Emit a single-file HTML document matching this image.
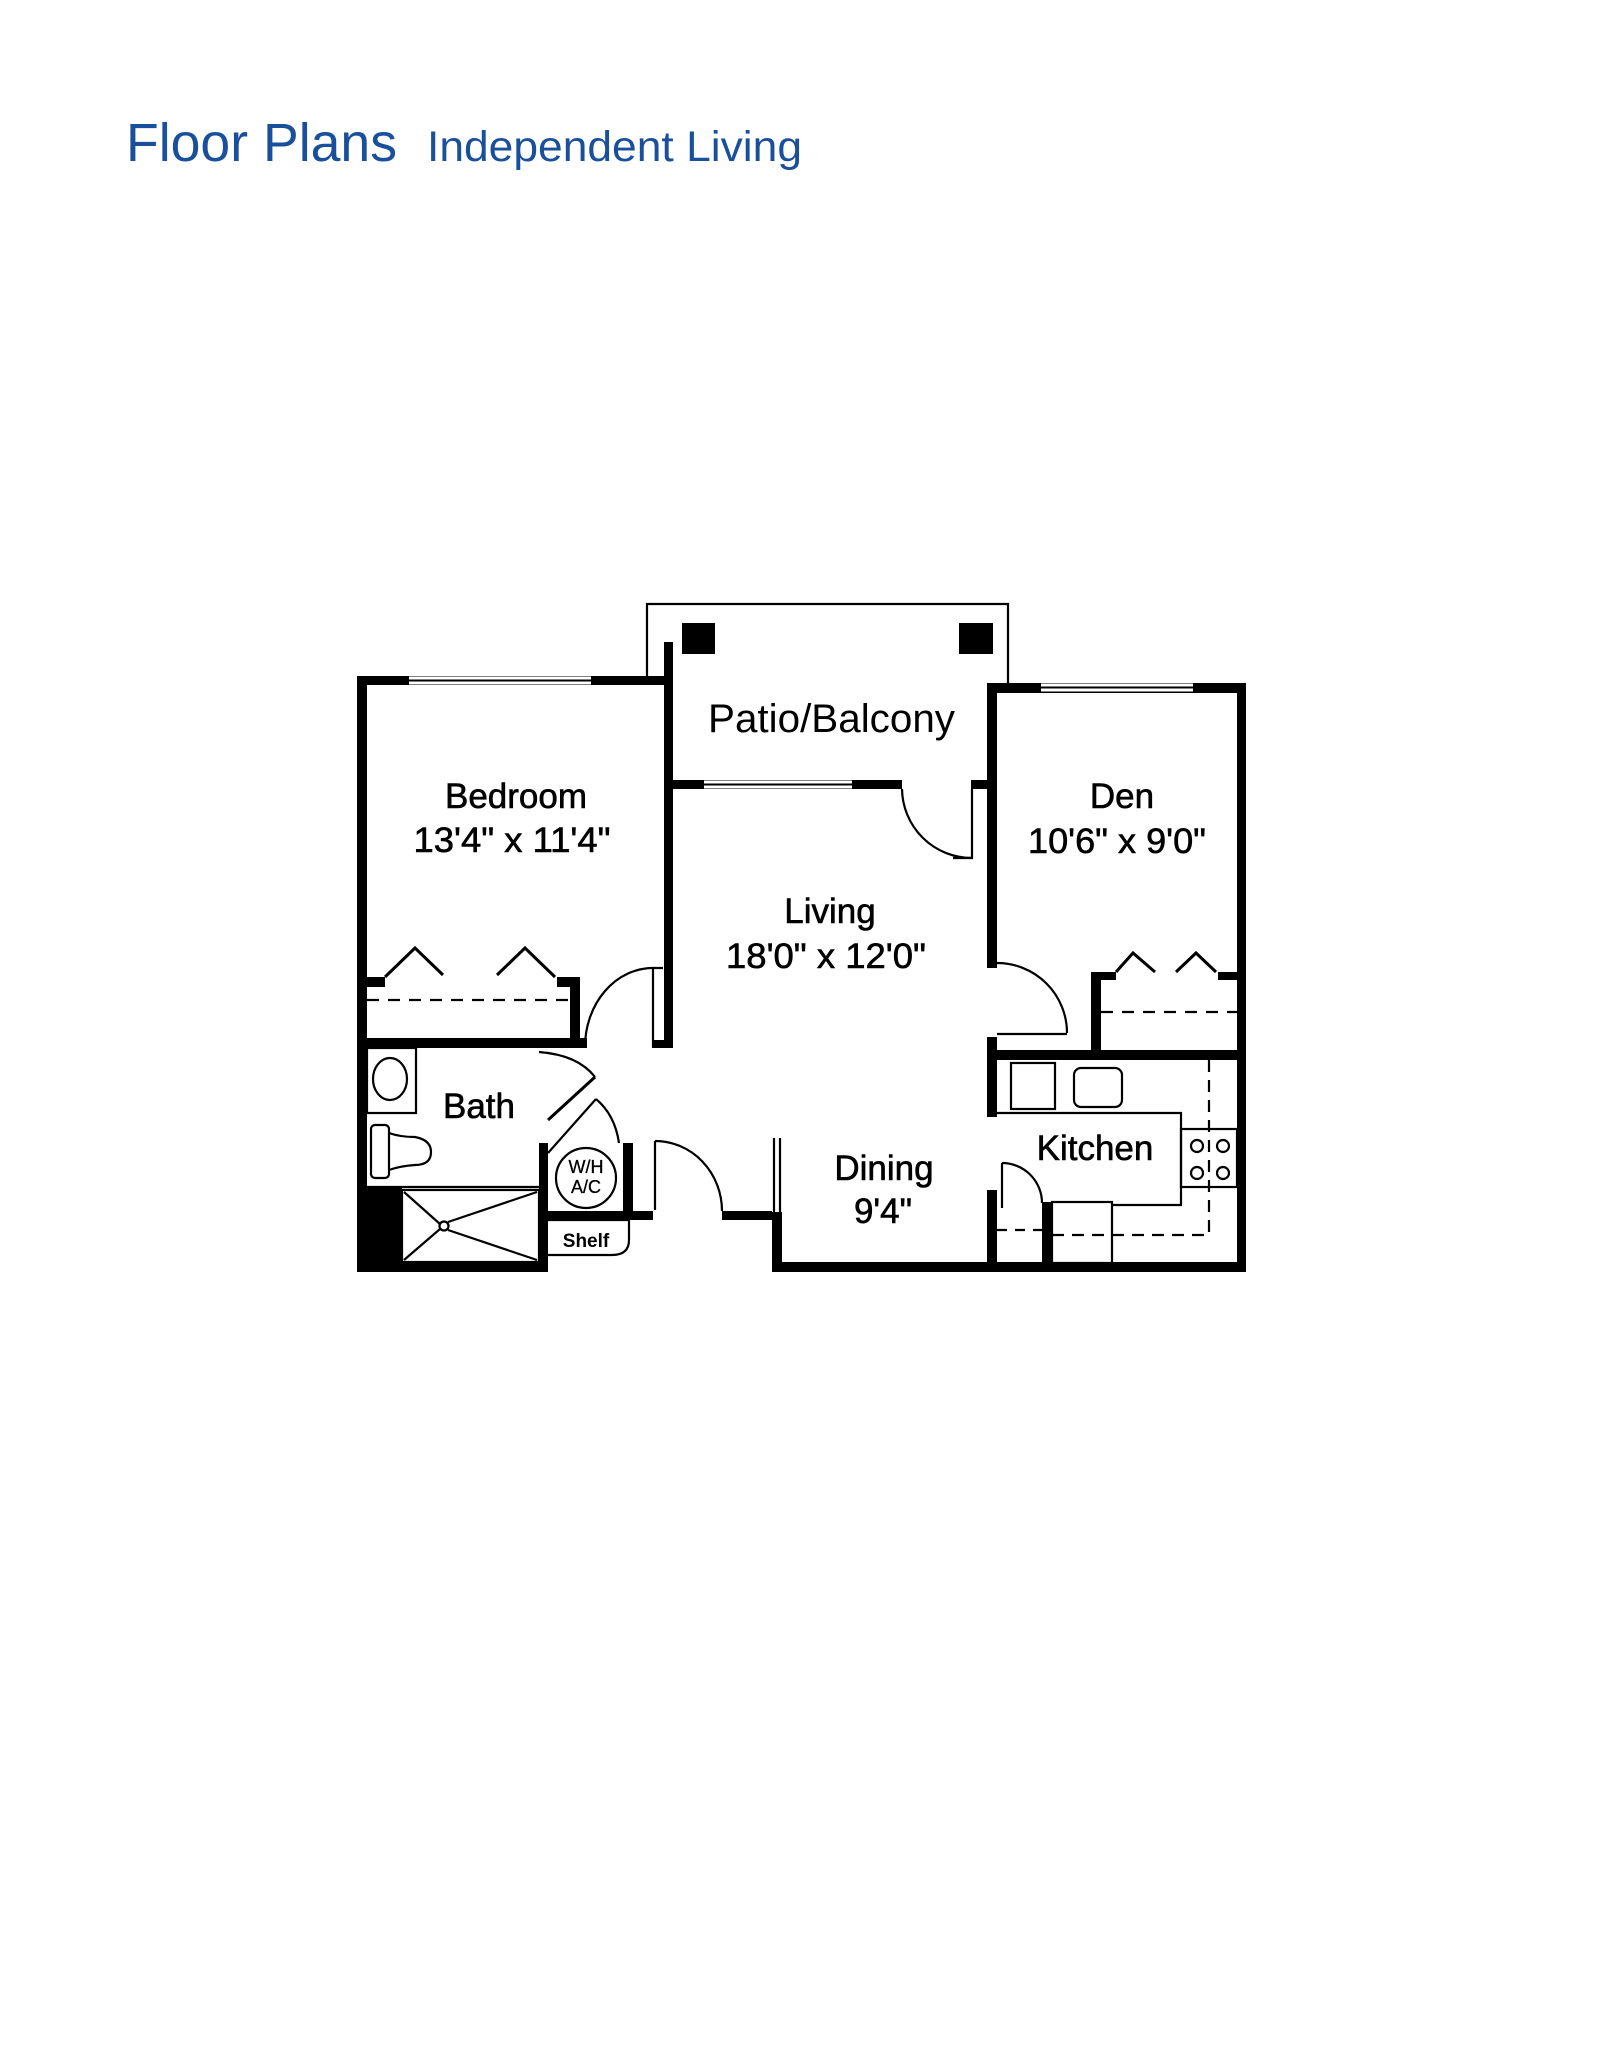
<!DOCTYPE html>
<html><head><meta charset="utf-8"><style>
html,body{margin:0;padding:0;background:#fff;}
svg{display:block;}
.t{font-family:"Liberation Sans",sans-serif;fill:#000;stroke:#000;stroke-width:0.6;}
</style></head><body>
<svg width="1600" height="2070" viewBox="0 0 1600 2070" xmlns="http://www.w3.org/2000/svg">
<text x="126" y="161" font-family="Liberation Sans, sans-serif" font-size="54" fill="#1a4f9c" textLength="271" lengthAdjust="spacingAndGlyphs">Floor Plans</text>
<text x="427" y="161" font-family="Liberation Sans, sans-serif" font-size="43" fill="#1a4f9c" textLength="375" lengthAdjust="spacingAndGlyphs">Independent Living</text>

<g fill="#000" stroke="none">
<rect x="357" y="676" width="10" height="596"/>
<rect x="357" y="676" width="316" height="9"/>
<rect x="664" y="642" width="9" height="406"/>
<rect x="664" y="780" width="238" height="9"/>
<rect x="971" y="780" width="26" height="9"/>
<rect x="987" y="683" width="259" height="10"/>
<rect x="987" y="683" width="10" height="285"/>
<rect x="1237" y="683" width="9" height="589"/>
<rect x="987" y="1037" width="10" height="80"/>
<rect x="1091" y="972" width="10" height="80"/>
<rect x="1091" y="972" width="25" height="8"/>
<rect x="1218" y="972" width="19" height="8"/>
<rect x="987" y="1050" width="259" height="10"/>
<rect x="987" y="1190" width="10" height="73"/>
<rect x="1042" y="1202" width="10" height="61"/>
<rect x="772" y="1262" width="474" height="10"/>
<rect x="772" y="1212" width="10" height="60"/>
<rect x="722" y="1211" width="50" height="9"/>
<rect x="539" y="1211" width="114" height="9"/>
<rect x="539" y="1143" width="9" height="129"/>
<rect x="539" y="1143" width="9" height="10"/>
<rect x="623" y="1143" width="10" height="77"/>
<rect x="357" y="1038" width="230" height="10"/>
<rect x="357" y="1262" width="191" height="10"/>
<rect x="367" y="1188" width="35" height="74"/>
<rect x="570" y="977" width="10" height="71"/>
<rect x="367" y="977" width="18" height="10"/>
<rect x="557" y="977" width="23" height="10"/>
<rect x="652" y="1040" width="12" height="8"/>
<rect x="682" y="623" width="33" height="31"/>
<rect x="959" y="623" width="34" height="31"/>
</g>

<g fill="none" stroke="#000" stroke-width="2.2">
<polyline points="647,676 647,604 1008,604 1008,683"/>
<line x1="409" y1="678" x2="591" y2="678" stroke="#fff" stroke-width="3"/>
<line x1="409" y1="683" x2="591" y2="683" stroke="#fff" stroke-width="3"/>
<line x1="704" y1="782" x2="852" y2="782" stroke="#fff" stroke-width="3"/>
<line x1="704" y1="787" x2="852" y2="787" stroke="#fff" stroke-width="3"/>
<line x1="1041" y1="685" x2="1193" y2="685" stroke="#fff" stroke-width="3"/>
<line x1="1041" y1="690" x2="1193" y2="690" stroke="#fff" stroke-width="3"/>
<line x1="774" y1="1138" x2="774" y2="1212"/>
<line x1="780" y1="1138" x2="780" y2="1212"/>
<polyline points="953,858 972,858 972,789"/>
<path d="M902,789 A70,70 0 0 0 972,858"/>
<polyline points="653,1047 653,968 663,968"/>
<path d="M585,1047 A68,79 0 0 1 653,968"/>
<path d="M997,963 A70,70 0 0 1 1067,1033"/>
<line x1="997" y1="1034" x2="1067" y2="1034"/>
<polyline points="385,977 415,948 443,975" stroke-width="3"/>
<polyline points="497,975 525,948 555,977" stroke-width="3"/>
<polyline points="1116,972 1133,953 1155,972" stroke-width="3"/>
<polyline points="1176,972 1196,953 1216,972" stroke-width="3"/>
<line x1="367" y1="1000" x2="570" y2="1000" stroke-dasharray="12,9"/>
<line x1="1101" y1="1012" x2="1237" y2="1012" stroke-dasharray="12,9"/>
<polyline points="997,1113 1181,1113 1181,1205 1112,1205"/>
<rect x="1181" y="1129" width="56" height="58"/>
<circle cx="1197" cy="1146" r="6"/><circle cx="1223" cy="1146" r="6"/>
<circle cx="1197" cy="1173" r="6"/><circle cx="1223" cy="1173" r="6"/>
<rect x="1011" y="1063" width="44" height="46"/>
<rect x="1074" y="1068" width="48" height="39" rx="7"/>
<line x1="1209" y1="1060" x2="1209" y2="1235" stroke-dasharray="12,8"/>
<line x1="1052" y1="1235" x2="1209" y2="1235" stroke-dasharray="12,8"/>
<line x1="997" y1="1230" x2="1042" y2="1230" stroke-dasharray="10,8"/>
<rect x="1052" y="1202" width="60" height="61"/>
<line x1="1002" y1="1163" x2="1002" y2="1208"/>
<path d="M1002,1163 A40,40 0 0 1 1042,1203"/>
<line x1="655" y1="1141" x2="655" y2="1210"/>
<path d="M655,1141 A67,70 0 0 1 722,1211"/>
<polyline points="548,1153 596,1099"/>
<path d="M596,1099 Q615,1115 619,1143"/>
<circle cx="586" cy="1178" r="30"/>
<path d="M548,1220 L629,1220 L629,1240 Q629,1255 612,1255 L548,1255"/>
<path d="M539,1052 Q578,1055 595,1077"/>
<line x1="595" y1="1077" x2="548" y2="1120" stroke-width="3"/>
<rect x="367" y="1048" width="49" height="65"/>
<ellipse cx="390" cy="1079" rx="17" ry="21"/>
<rect x="371" y="1125" width="18" height="53" rx="4"/>
<path d="M389,1133 Q400,1137 415,1137 Q431,1140 431,1152 Q431,1165 415,1165 Q400,1166 389,1170"/>
<line x1="367" y1="1187" x2="539" y2="1187"/>
<rect x="402" y="1190" width="137" height="72"/>
<line x1="404" y1="1192" x2="440" y2="1224"/>
<line x1="404" y1="1260" x2="440" y2="1229"/>
<line x1="448" y1="1222" x2="537" y2="1192"/>
<line x1="448" y1="1230" x2="537" y2="1260"/>
<circle cx="444" cy="1226" r="4.5"/>
</g>

<g class="t" font-size="35">
<text x="708" y="732" font-size="40" stroke-width="0" textLength="247" lengthAdjust="spacingAndGlyphs">Patio/Balcony</text>
<text x="516" y="808" text-anchor="middle">Bedroom</text>
<text x="512" y="852" text-anchor="middle" textLength="197" lengthAdjust="spacingAndGlyphs">13'4" x 11'4"</text>
<text x="1122" y="808" text-anchor="middle">Den</text>
<text x="1117" y="853" text-anchor="middle" textLength="178" lengthAdjust="spacingAndGlyphs">10'6" x 9'0"</text>
<text x="830" y="923" text-anchor="middle">Living</text>
<text x="826" y="968" text-anchor="middle" textLength="200" lengthAdjust="spacingAndGlyphs">18'0" x 12'0"</text>
<text x="479" y="1118" text-anchor="middle">Bath</text>
<text x="884" y="1180" text-anchor="middle">Dining</text>
<text x="883" y="1223" text-anchor="middle">9'4"</text>
<text x="1095" y="1160" text-anchor="middle">Kitchen</text>
<text x="586" y="1247" text-anchor="middle" font-size="19" font-weight="bold" stroke-width="0">Shelf</text>
<text x="586" y="1173" text-anchor="middle" font-size="18" stroke-width="0.3">W/H</text>
<text x="586" y="1193" text-anchor="middle" font-size="18" stroke-width="0.3">A/C</text>
</g>
</svg>
</body></html>
